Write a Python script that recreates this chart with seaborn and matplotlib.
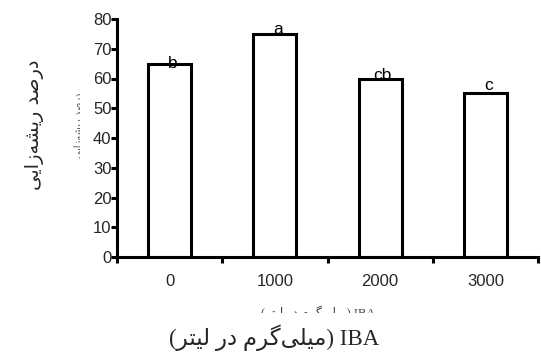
import numpy as np
import matplotlib
matplotlib.use("Agg")
import matplotlib.pyplot as plt
from matplotlib.transforms import Bbox
import pandas as pd
import seaborn as sns

# data
doses = ["0", "1000", "2000", "3000"]
rooting = [65, 75, 60, 55]
letters = ["b", "a", "cb", "c"]
yticks = [0, 10, 20, 30, 40, 50, 60, 70, 80]

# persian labels written in visual order with presentation forms (no shaping in matplotlib)
ylab = "\uFEF0\uFEF3\uFE8D\uFEAF\uFEEA\uFEB8\uFEF3\uFEAD \uFEAA\uFEBB\uFEAD\uFEA9"
xlab = "(\uFEAE\uFE98\uFEF4\uFEDF \uFEAD\uFEA9 \uFEE1\uFEAE\uFB94\uFEF0\uFEE0\uFEF4\uFEE3) IBA"

sns.set_theme(style="ticks")
plt.rcParams['font.family'] = ['Liberation Sans', 'DejaVu Sans']

df = pd.DataFrame({"dose": doses, "rooting": rooting})

fig = plt.figure(figsize=(5.41, 3.56), dpi=100)
ax = fig.add_axes([117/541, 1-257/356, 421/541, 238/356])

sns.barplot(data=df, x="dose", y="rooting", ax=ax, width=0.41,
            color="white", edgecolor="black", linewidth=2.2, errorbar=None)

ax.set_xlim(-0.5, 3.5)
ax.set_ylim(0, 80)
ax.set_yticks(yticks)
ax.set_xticks(range(len(doses)))
ax.set_xticklabels(doses)
ax.set_xticks(np.arange(-0.5, len(doses), 1.0), minor=True)
ax.tick_params(axis="x", which="major", length=0, pad=12, labelsize=12)
ax.tick_params(axis="x", which="minor", length=4, width=2.2, direction="out", color="black")
ax.tick_params(axis="y", length=4, width=2.2, pad=0, labelsize=12, color="black")
for s in ["top", "right"]:
    ax.spines[s].set_visible(False)
for s in ["left", "bottom"]:
    ax.spines[s].set_linewidth(2.2)
    ax.spines[s].set_color("black")
ax.set_xlabel("")
ax.set_ylabel("")

offsets = [-5, -2.5, -3, 0.5]
for i, (v, lt) in enumerate(zip(rooting, letters)):
    ax.annotate(lt, (i, v), xytext=(2, offsets[i]), textcoords="offset points",
                ha="center", va="bottom", fontsize=12.5, color="black")

fig.text(34/541, 1-125/356, ylab, rotation=90, ha="center", va="center",
         fontsize=14, family=["DejaVu Sans"])
fig.text(274/541, 1-338/356, xlab, ha="center", va="center",
         fontsize=16.5, family=["Liberation Serif", "DejaVu Sans"])

# faint, half clipped duplicates of the labels seen in the source
t1 = fig.text(78/541, 1-125/356, ylab, rotation=90, ha="center", va="center",
              fontsize=7, color="#555555", family=["DejaVu Sans"])
t1.set_clip_on(True)
t1.set_clip_box(Bbox.from_extents(70, 0, 80, 356))
t2 = fig.text(318/541, 1-313/356, xlab, ha="center", va="center",
              fontsize=9, color="#444444", family=["Liberation Serif", "DejaVu Sans"])
t2.set_clip_on(True)
t2.set_clip_box(Bbox.from_extents(0, 356-313, 541, 356-305))

fig.savefig("out.png", dpi=100)
